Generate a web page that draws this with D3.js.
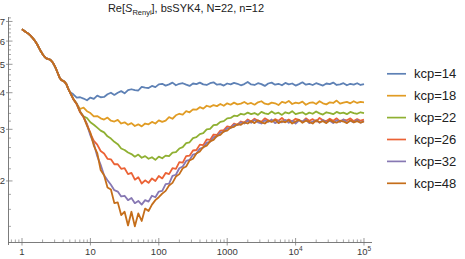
<!DOCTYPE html>
<html><head><meta charset="utf-8">
<script src="https://cdn.jsdelivr.net/npm/d3@7"></script>
<style>body{margin:0;background:#fff}svg{display:block;font-family:"Liberation Sans",Arial,sans-serif}</style>
</head><body><svg id="c" width="465" height="259"></svg>
<script>
const seriesNames = ["kcp=14","kcp=18","kcp=22","kcp=26","kcp=32","kcp=48"];
const seriesColors = ["#5e81b5","#e19c24","#8fb032","#eb6235","#8778b3","#c56e1a"];

// log10(t) for the common early part and the noisy tails
const sharedLogT = [0,0.025,0.05,0.075,0.1,0.125,0.15,0.175,0.2,0.225,0.25,0.275,0.3,0.325,0.35,0.375,0.4,0.425,0.45,0.475,0.5,0.525,0.55,0.575,0.6,0.625,0.65,0.675,0.7];
const sharedVals = [6.58,6.52,6.46,6.40,6.34,6.26,6.17,6.07,5.96,5.83,5.68,5.54,5.42,5.32,5.25,5.22,5.20,5.15,5.07,4.95,4.81,4.65,4.50,4.42,4.39,4.35,4.27,4.13,4.02];
const tailLogT = d3.range(86).map(i => +(0.75 + 0.05 * i).toFixed(2));

const kcp14 = [3.95,3.85,3.86,3.82,3.77,3.85,3.81,3.91,3.86,3.87,
 3.95,4.00,3.93,4.00,4.05,3.98,4.08,4.11,4.08,4.07,
 4.19,4.16,4.15,4.22,4.18,4.27,4.29,4.23,4.27,4.33,
 4.24,4.29,4.31,4.26,4.22,4.30,4.28,4.33,4.27,4.25,
 4.31,4.34,4.26,4.28,4.23,4.30,4.27,4.32,4.29,4.24,
 4.28,4.35,4.27,4.25,4.31,4.28,4.22,4.30,4.33,4.26,
 4.29,4.24,4.32,4.27,4.30,4.23,4.28,4.34,4.26,4.29,
 4.25,4.31,4.27,4.23,4.30,4.28,4.33,4.25,4.27,4.31,
 4.24,4.29,4.26,4.31,4.25,4.28];
const kcp18 = [3.82,3.66,3.52,3.56,3.46,3.41,3.32,3.33,3.27,3.24,
 3.29,3.21,3.19,3.23,3.14,3.17,3.11,3.15,3.08,3.12,
 3.07,3.14,3.12,3.18,3.14,3.22,3.18,3.21,3.30,3.26,
 3.35,3.39,3.37,3.46,3.43,3.51,3.50,3.57,3.53,3.61,
 3.58,3.63,3.60,3.66,3.61,3.68,3.64,3.70,3.65,3.67,
 3.72,3.66,3.69,3.64,3.71,3.74,3.67,3.65,3.70,3.68,
 3.63,3.72,3.69,3.75,3.66,3.70,3.68,3.73,3.64,3.69,
 3.71,3.66,3.74,3.68,3.65,3.71,3.69,3.76,3.67,3.70,
 3.72,3.68,3.74,3.69,3.72,3.71];
const kcp22 = [3.80,3.67,3.45,3.32,3.28,3.17,3.11,3.04,2.97,2.93,
 2.84,2.79,2.72,2.67,2.58,2.55,2.50,2.47,2.42,2.46,
 2.40,2.43,2.38,2.41,2.36,2.42,2.39,2.44,2.43,2.50,
 2.51,2.58,2.61,2.69,2.71,2.80,2.82,2.89,2.91,3.00,
 3.01,3.10,3.11,3.18,3.20,3.27,3.28,3.34,3.33,3.39,
 3.37,3.42,3.38,3.41,3.36,3.44,3.40,3.38,3.45,3.39,
 3.42,3.36,3.43,3.40,3.46,3.38,3.41,3.43,3.37,3.42,
 3.39,3.45,3.40,3.37,3.43,3.41,3.38,3.44,3.40,3.42,
 3.38,3.44,3.41,3.39,3.43,3.41];
const kcp26 = [3.81,3.65,3.43,3.30,3.13,2.90,2.74,2.66,2.53,2.48,
 2.38,2.37,2.28,2.28,2.20,2.21,2.11,2.13,2.02,2.06,
 1.96,2.01,1.97,2.04,2.00,2.08,2.04,2.13,2.11,2.21,
 2.20,2.32,2.31,2.43,2.44,2.54,2.55,2.66,2.65,2.77,
 2.76,2.88,2.87,2.97,2.98,3.07,3.05,3.14,3.11,3.19,
 3.16,3.24,3.19,3.26,3.21,3.18,3.27,3.22,3.19,3.25,
 3.21,3.28,3.20,3.24,3.19,3.26,3.23,3.18,3.27,3.21,
 3.25,3.19,3.28,3.22,3.20,3.26,3.21,3.27,3.19,3.24,
 3.22,3.27,3.20,3.25,3.21,3.24];
const kcp32 = [3.80,3.67,3.44,3.31,3.11,2.86,2.68,2.43,2.27,2.09,
 2.01,1.94,1.86,1.84,1.77,1.78,1.72,1.75,1.68,1.71,
 1.66,1.72,1.70,1.78,1.76,1.84,1.85,1.95,1.96,2.08,
 2.10,2.21,2.24,2.34,2.36,2.46,2.48,2.58,2.60,2.70,
 2.72,2.82,2.84,2.93,2.94,3.03,3.03,3.11,3.10,3.17,
 3.14,3.21,3.16,3.23,3.17,3.14,3.22,3.18,3.24,3.15,
 3.20,3.17,3.23,3.16,3.21,3.14,3.22,3.19,3.24,3.15,
 3.19,3.22,3.16,3.23,3.17,3.21,3.15,3.22,3.18,3.24,
 3.16,3.21,3.17,3.23,3.16,3.20];
const kcp48 = [3.81,3.66,3.44,3.31,3.09,2.92,2.64,2.49,2.18,2.09,
 1.90,1.87,1.68,1.69,1.53,1.57,1.41,1.57,1.40,1.55,
 1.46,1.61,1.58,1.66,1.72,1.76,1.81,1.85,1.93,1.97,
 2.07,2.11,2.21,2.24,2.35,2.38,2.48,2.52,2.61,2.64,
 2.73,2.76,2.85,2.87,2.95,2.97,3.04,3.06,3.12,3.11,
 3.17,3.14,3.20,3.15,3.22,3.17,3.14,3.21,3.18,3.23,
 3.15,3.20,3.17,3.22,3.14,3.19,3.23,3.16,3.21,3.18,
 3.14,3.22,3.17,3.20,3.15,3.23,3.18,3.16,3.21,3.19,
 3.15,3.22,3.17,3.20,3.16,3.19];
const tails = [kcp14,kcp18,kcp22,kcp26,kcp32,kcp48];

const xTickVals = [1,10,100,1000,1e4,1e5];
const xTickLabels = [["1",""],["10",""],["100",""],["1000",""],["10","4"],["10","5"]];
const yTickVals = [2,3,4,5,6,7];
const titleParts = ["Re[", "S", "Renyi", "], bsSYK4, N=22, n=12"];

const svg = d3.select("#c");
const x = d3.scaleLog().domain([Math.pow(10,-0.2047), Math.pow(10,5.117)]).range([8, 372]);
const y = d3.scaleLog().domain([1.238, 7.25]).range([242, 17]);
const axisColor = "#6d6d6d", textColor = "#3a3a3a";

// minor ticks
const xMinor = [];
for (let d = -1; d <= 4; d++) for (let m = 2; m <= 9; m++) {
  const v = m * Math.pow(10, d);
  if (v >= x.domain()[0] && v <= x.domain()[1]) xMinor.push(v);
}
const yMinor = [];
for (let v = 1.4; v < 7.25; v += 0.2) { const r = Math.round(v*10)/10; if (!yTickVals.includes(r)) yMinor.push(r); }

const ax = svg.append("g");
ax.selectAll(".xm").data(xMinor).join("line")
  .attr("x1", d => x(d)).attr("x2", d => x(d)).attr("y1", 242.5).attr("y2", 239.5)
  .attr("stroke", axisColor).attr("stroke-width", 0.6);
ax.selectAll(".xM").data(xTickVals).join("line")
  .attr("x1", d => x(d)).attr("x2", d => x(d)).attr("y1", 245.5).attr("y2", 238)
  .attr("stroke", axisColor).attr("stroke-width", 0.7);
ax.selectAll(".ym").data(yMinor).join("line")
  .attr("y1", d => y(d)).attr("y2", d => y(d)).attr("x1", 8.5).attr("x2", 11)
  .attr("stroke", axisColor).attr("stroke-width", 0.6);
ax.selectAll(".yM").data(yTickVals).join("line")
  .attr("y1", d => y(d)).attr("y2", d => y(d)).attr("x1", 6).attr("x2", 12.5)
  .attr("stroke", axisColor).attr("stroke-width", 0.7);
ax.append("line").attr("x1", 8).attr("x2", 372).attr("y1", 242.5).attr("y2", 242.5)
  .attr("stroke", axisColor).attr("stroke-width", 0.9);
ax.append("line").attr("x1", 8.5).attr("x2", 8.5).attr("y1", 17).attr("y2", 245)
  .attr("stroke", axisColor).attr("stroke-width", 0.9);

const xl = ax.selectAll(".xl").data(xTickVals).join("text")
  .attr("x", d => x(d)).attr("y", 255).attr("text-anchor", "middle")
  .attr("font-size", 9.5).attr("fill", textColor);
xl.each(function(d, i) {
  const t = d3.select(this);
  t.append("tspan").text(xTickLabels[i][0]);
  if (xTickLabels[i][1]) t.append("tspan").attr("font-size", 6.5).attr("dy", -4).text(xTickLabels[i][1]);
});
ax.selectAll(".yl").data(yTickVals).join("text")
  .attr("x", 5).attr("y", d => y(d) + 3.5).attr("text-anchor", "end")
  .attr("font-size", 9.5).attr("fill", textColor).text(d => d);

// series
const line = d3.line().x(d => x(Math.pow(10, d[0]))).y(d => y(d[1]));
const plot = svg.append("g");
tails.forEach((vals, k) => {
  const pts = sharedLogT.map((l, i) => [l, sharedVals[i]]).concat(tailLogT.map((l, i) => [l, vals[i]]));
  plot.append("path").attr("d", line(pts)).attr("fill", "none")
    .attr("stroke", seriesColors[k]).attr("stroke-width", 1.8).attr("stroke-linejoin", "round");
});

// title
const title = svg.append("text").attr("x", 186).attr("y", 12).attr("text-anchor", "middle")
  .attr("font-size", 11).attr("fill", "#222");
title.append("tspan").text(titleParts[0]);
title.append("tspan").attr("font-style", "italic").text(titleParts[1]);
title.append("tspan").attr("font-size", 7.5).attr("dy", 2.5).text(titleParts[2]);
title.append("tspan").attr("dy", -2.5).text(titleParts[3]);

// legend
const lg = svg.append("g");
seriesNames.forEach((n, i) => {
  const cy = 73.8 + i * 21.9;
  lg.append("line").attr("x1", 387).attr("x2", 406).attr("y1", cy).attr("y2", cy)
    .attr("stroke", seriesColors[i]).attr("stroke-width", 1.7);
  lg.append("text").attr("x", 414).attr("y", cy + 4.5).attr("font-size", 13)
    .attr("fill", "#222").text(n);
});
</script></body></html>
